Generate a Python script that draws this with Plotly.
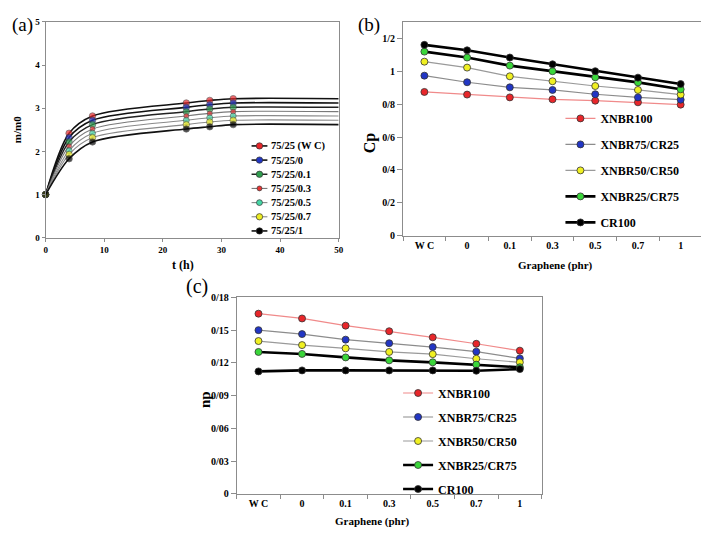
import plotly.graph_objects as go

# target picture size and the page's default body margin
W, H = 709, 535
OFF = 8
FW, FH = W - OFF, H - OFF

# ---------------- Panel (a) data ----------------
t_hours = [0, 4, 8, 24, 28, 32, 50]
a_names = ["75/25 (W C)", "75/25/0", "75/25/0.1", "75/25/0.3", "75/25/0.5", "75/25/0.7", "75/25/1"]
a_wc = [1, 2.42, 2.82, 3.12, 3.18, 3.22, 3.22]
a_g0 = [1, 2.32, 2.72, 3.02, 3.08, 3.12, 3.12]
a_g01 = [1, 2.22, 2.62, 2.92, 2.98, 3.02, 3.02]
a_g03 = [1, 2.12, 2.52, 2.82, 2.88, 2.92, 2.92]
a_g05 = [1, 2.02, 2.42, 2.72, 2.78, 2.82, 2.82]
a_g07 = [1, 1.93, 2.32, 2.62, 2.68, 2.72, 2.72]
a_g1 = [1, 1.83, 2.22, 2.52, 2.57, 2.62, 2.62]
a_series = [a_wc, a_g0, a_g01, a_g03, a_g05, a_g07, a_g1]

# ---------------- Panels (b) and (c) data ----------------
graphene = ["W C", "0", "0.1", "0.3", "0.5", "0.7", "1"]
blend_names = ["XNBR100", "XNBR75/CR25", "XNBR50/CR50", "XNBR25/CR75", "CR100"]

cp_xnbr100 = [0.874, 0.858, 0.841, 0.829, 0.821, 0.811, 0.797]
cp_x75 = [0.973, 0.933, 0.902, 0.886, 0.860, 0.841, 0.827]
cp_x50 = [1.058, 1.022, 0.969, 0.939, 0.910, 0.886, 0.858]
cp_x25 = [1.119, 1.083, 1.034, 1.000, 0.963, 0.932, 0.890]
cp_cr100 = [1.160, 1.127, 1.083, 1.042, 1.000, 0.961, 0.922]
cp_series = [cp_xnbr100, cp_x75, cp_x50, cp_x25, cp_cr100]

np_xnbr100 = [0.1651, 0.1607, 0.1541, 0.1490, 0.1434, 0.1375, 0.1312]
np_x75 = [0.1500, 0.1464, 0.1413, 0.1380, 0.1345, 0.1303, 0.1241]
np_x50 = [0.1400, 0.1363, 0.1333, 0.1300, 0.1280, 0.1238, 0.1205]
np_x25 = [0.1300, 0.1282, 0.1250, 0.1223, 0.1205, 0.1184, 0.1160]
np_cr100 = [0.1122, 0.1131, 0.1131, 0.1131, 0.1131, 0.1128, 0.1143]
np_series = [np_xnbr100, np_x75, np_x50, np_x25, np_cr100]

cp_tickvals = [0, 0.2, 0.4, 0.6, 0.8, 1.0, 1.2]
cp_ticktext = ["0", "0/2", "0/4", "0/6", "0/8", "1", "1/2"]
np_tickvals = [0, 0.03, 0.06, 0.09, 0.12, 0.15, 0.18]
np_ticktext = ["0", "0/03", "0/06", "0/09", "0/12", "0/15", "0/18"]

# ---------------- styles ----------------
SERIF = "Liberation Serif, Times New Roman, serif"
FRAME = "#8c8c8c"

a_marker_colors = ["#e8262a", "#2236c4", "#2f9e4f", "#e83434", "#45d6a6", "#ecec22", "#000000"]
a_marker_sizes = [6.5, 6.5, 6.5, 5, 6, 6.5, 6.5]
a_line_colors = ["#111111", "#111111", "#222222", "#7a7a7a", "#8a8a8a", "#8a8a8a", "#111111"]
a_line_widths = [1.6, 1.6, 1.5, 1.1, 1.1, 1.1, 1.6]

b_marker_colors = ["#e8262a", "#2236c4", "#f0f022", "#3ad63a", "#000000"]
b_line_colors = ["#f08a8a", "#8c8c8c", "#9a9a9a", "#000000", "#000000"]
b_line_widths = [1.2, 1.2, 1.2, 2.6, 2.6]


def px(x):
    """screen x (reference pixels) -> paper fraction"""
    return (x - OFF) / FW


def py(y):
    """screen y (reference pixels) -> paper fraction"""
    return 1 - (y - OFF) / FH


fig = go.Figure()

# Panel (a) curves
for i, (name, vals) in enumerate(zip(a_names, a_series)):
    sizes = [a_marker_sizes[i]] * (len(t_hours) - 1) + [0]
    fig.add_trace(go.Scatter(
        x=t_hours, y=vals, name=name, mode="lines+markers",
        line=dict(color=a_line_colors[i], width=a_line_widths[i], shape="spline", smoothing=0.9),
        marker=dict(color=a_marker_colors[i], size=sizes, line=dict(color="#333333", width=0.7)),
        xaxis="x", yaxis="y", showlegend=False, cliponaxis=False,
    ))

# Panel (b)
for i, (name, vals) in enumerate(zip(blend_names, cp_series)):
    fig.add_trace(go.Scatter(
        x=graphene, y=vals, name=name, mode="lines+markers",
        line=dict(color=b_line_colors[i], width=b_line_widths[i]),
        marker=dict(color=b_marker_colors[i], size=7, line=dict(color="#333333", width=0.8)),
        xaxis="x2", yaxis="y2", legend="legend2", legendgroup="b" + str(i),
    ))

# Panel (c)
for i, (name, vals) in enumerate(zip(blend_names, np_series)):
    fig.add_trace(go.Scatter(
        x=graphene, y=vals, name=name, mode="lines+markers",
        line=dict(color=b_line_colors[i], width=b_line_widths[i]),
        marker=dict(color=b_marker_colors[i], size=7, line=dict(color="#333333", width=0.8)),
        xaxis="x3", yaxis="y3", legend="legend3", legendgroup="c" + str(i),
    ))

tick_small = dict(family=SERIF, size=9, color="#000", weight="bold")
tick_med = dict(family=SERIF, size=10, color="#000", weight="bold")

axis_common = dict(showline=True, linecolor=FRAME, linewidth=1, mirror=True,
                   showgrid=False, zeroline=False, ticks="outside", tickcolor=FRAME)

annotations = []
shapes = []


def add_text(text, x, y, size, bold=True, angle=0, xanchor="center", yanchor="middle"):
    annotations.append(dict(
        text=text, x=px(x), y=py(y), xref="paper", yref="paper", showarrow=False,
        xanchor=xanchor, yanchor=yanchor, textangle=angle,
        font=dict(family=SERIF, size=size, color="#000", weight="bold" if bold else "normal"),
    ))


# panel labels
add_text("(a)", OFF, 19, 19, bold=False, xanchor="left")
add_text("(b)", 357, 19, 19, bold=False, xanchor="left")
add_text("(c)", 184, 287, 20, bold=False, xanchor="left")

# axis titles
add_text("t (h)", 183, 265, 12)
add_text("m/m0", 15, 126, 11, angle=-90)
add_text("Graphene (phr)", 559, 265, 11)
add_text("Cp", 372, 140, 16, angle=-90)
add_text("Graphene (phr)", 374, 527, 11)
add_text("np", 205, 403, 15, angle=-90)

# compact manual legend for panel (a)
for i, name in enumerate(a_names):
    yy = 143 + i * 14.5
    shapes.append(dict(type="line", xref="paper", yref="paper",
                       x0=px(252), x1=px(268), y0=py(yy), y1=py(yy),
                       line=dict(color=a_line_colors[i], width=a_line_widths[i])))
    r = a_marker_sizes[i] / 2
    shapes.append(dict(type="circle", xref="paper", yref="paper",
                       x0=px(260 - r), x1=px(260 + r), y0=py(yy + r), y1=py(yy - r),
                       fillcolor=a_marker_colors[i], line=dict(color="#333333", width=0.7)))
    add_text(name, 270, yy, 10.5, xanchor="left")

fig.update_layout(
    width=FW, height=FH,
    margin=dict(l=0, r=0, t=0, b=0),
    paper_bgcolor="white", plot_bgcolor="white",
    font=dict(family=SERIF, color="#000"),
    xaxis=dict(domain=[px(44), px(340)], range=[0, 50], dtick=10, ticklen=3,
               tickfont=tick_small, anchor="y", **axis_common),
    yaxis=dict(domain=[py(237), py(16)], range=[0, 5], dtick=1, ticklen=3,
               tickfont=tick_small, anchor="x", **axis_common),
    xaxis2=dict(domain=[px(405), px(707)], type="category", categoryorder="array",
                categoryarray=graphene, range=[-0.5, 6.5], tickson="boundaries", ticklen=4,
                tickfont=tick_med, anchor="y2", **axis_common),
    yaxis2=dict(domain=[py(235), py(16)], range=[0, 1.3], tickvals=cp_tickvals,
                ticktext=cp_ticktext, ticklen=5, tickfont=tick_med, anchor="x2", **axis_common),
    xaxis3=dict(domain=[px(237), px(545)], type="category", categoryorder="array",
                categoryarray=graphene, range=[-0.5, 6.5], tickson="boundaries", ticklen=4,
                tickfont=tick_med, anchor="y3", **axis_common),
    yaxis3=dict(domain=[py(499), py(298)], range=[0, 0.18], tickvals=np_tickvals,
                ticktext=np_ticktext, ticklen=5, tickfont=tick_med, anchor="x3", **axis_common),
    legend2=dict(x=px(564), y=py(100), xanchor="left", yanchor="top",
                 bgcolor="rgba(0,0,0,0)", borderwidth=0, traceorder="grouped",
                 tracegroupgap=7, font=dict(family=SERIF, size=12, color="#000", weight="bold")),
    legend3=dict(x=px(400), y=py(381), xanchor="left", yanchor="top",
                 bgcolor="rgba(0,0,0,0)", borderwidth=0, traceorder="grouped",
                 tracegroupgap=5, font=dict(family=SERIF, size=12, color="#000", weight="bold")),
    annotations=annotations,
    shapes=shapes,
)

fig.write_html("out.html")
